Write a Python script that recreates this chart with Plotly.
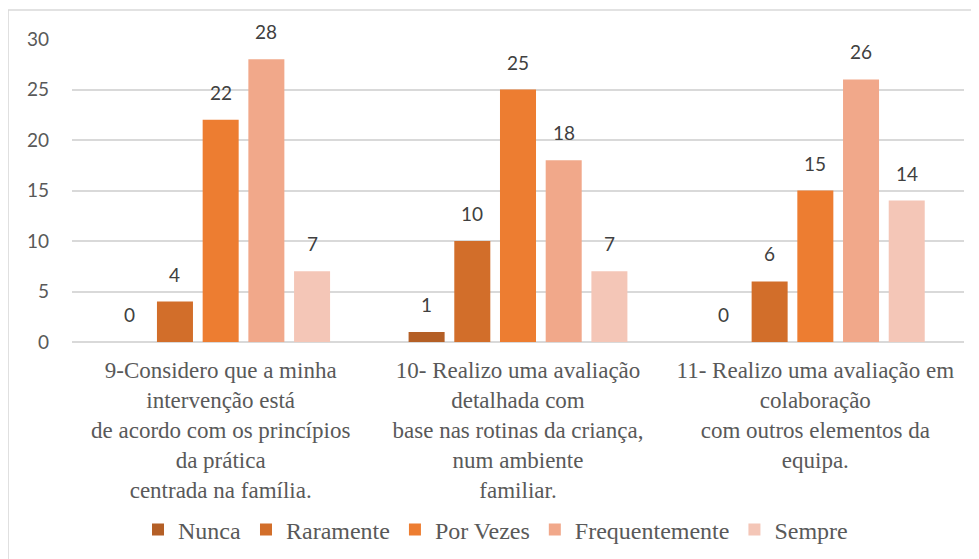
import plotly.graph_objects as go

categories = [
    "9-Considero que a minha<br>intervenção está<br>de acordo com os princípios<br>da prática<br>centrada na família.",
    "10- Realizo uma avaliação<br>detalhada com<br>base nas rotinas da criança,<br>num ambiente<br>familiar.",
    "11- Realizo uma avaliação em<br>colaboração<br>com outros elementos da<br>equipa.",
]
series_names = ["Nunca", "Raramente", "Por Vezes", "Frequentemente", "Sempre"]
nunca = [0, 1, 0]
raramente = [4, 10, 6]
por_vezes = [22, 25, 15]
frequentemente = [28, 18, 26]
sempre = [7, 7, 14]
series_values = [nunca, raramente, por_vezes, frequentemente, sempre]
colors = ["#B45F26", "#D26E2A", "#ED7D31", "#F1A88A", "#F4C6B7"]
y_ticks = [0, 5, 10, 15, 20, 25, 30]

SERIF = "Liberation Serif, Times New Roman, serif"

fig = go.Figure()
for name, vals, col in zip(series_names, series_values, colors):
    fig.add_trace(go.Bar(name=name, x=categories, y=vals, marker=dict(color=col, line=dict(width=0))))

# data labels above bars
slot_px = 45.7
for i, vals in enumerate(series_values):
    for c, v in zip(categories, vals):
        fig.add_annotation(x=c, y=v, text=str(v), showarrow=False, xref="x", yref="y",
                           xshift=(i - 2) * slot_px, yshift=14, yanchor="bottom",
                           font=dict(family="Lato", size=19, color="#404040"))

fig.add_shape(type="rect", xref="paper", yref="paper", x0=-0.0717, x1=1.08, y0=-0.9, y1=1.0957,
              line=dict(color="#D9D9D9", width=1.5), fillcolor="rgba(0,0,0,0)", layer="below")

fig.update_layout(
    width=979, height=559,
    margin=dict(l=64, r=23, t=31, b=225),
    paper_bgcolor="white", plot_bgcolor="white",
    barmode="group", bargap=0.2315, bargroupgap=0.212,
    showlegend=True,
    legend=dict(orientation="h", x=0.074, xanchor="left", y=-0.62, yanchor="middle",
                font=dict(family=SERIF, size=24, color="#595959"),
                traceorder="normal"),
    xaxis=dict(showgrid=False, showline=False, ticks="", zeroline=False,
               tickfont=dict(family=SERIF, size=23, color="#595959"),
               ticklabelstandoff=12),
    yaxis=dict(range=[0, 30], tickvals=y_ticks, showgrid=True, gridcolor="#D9D9D9", gridwidth=1.5,
               zeroline=True, zerolinecolor="#D9D9D9", zerolinewidth=1.5, showline=False, ticks="",
               tickfont=dict(family="Lato", size=19, color="#595959"), ticklabelstandoff=22),
)

fig.write_html("out.html")
